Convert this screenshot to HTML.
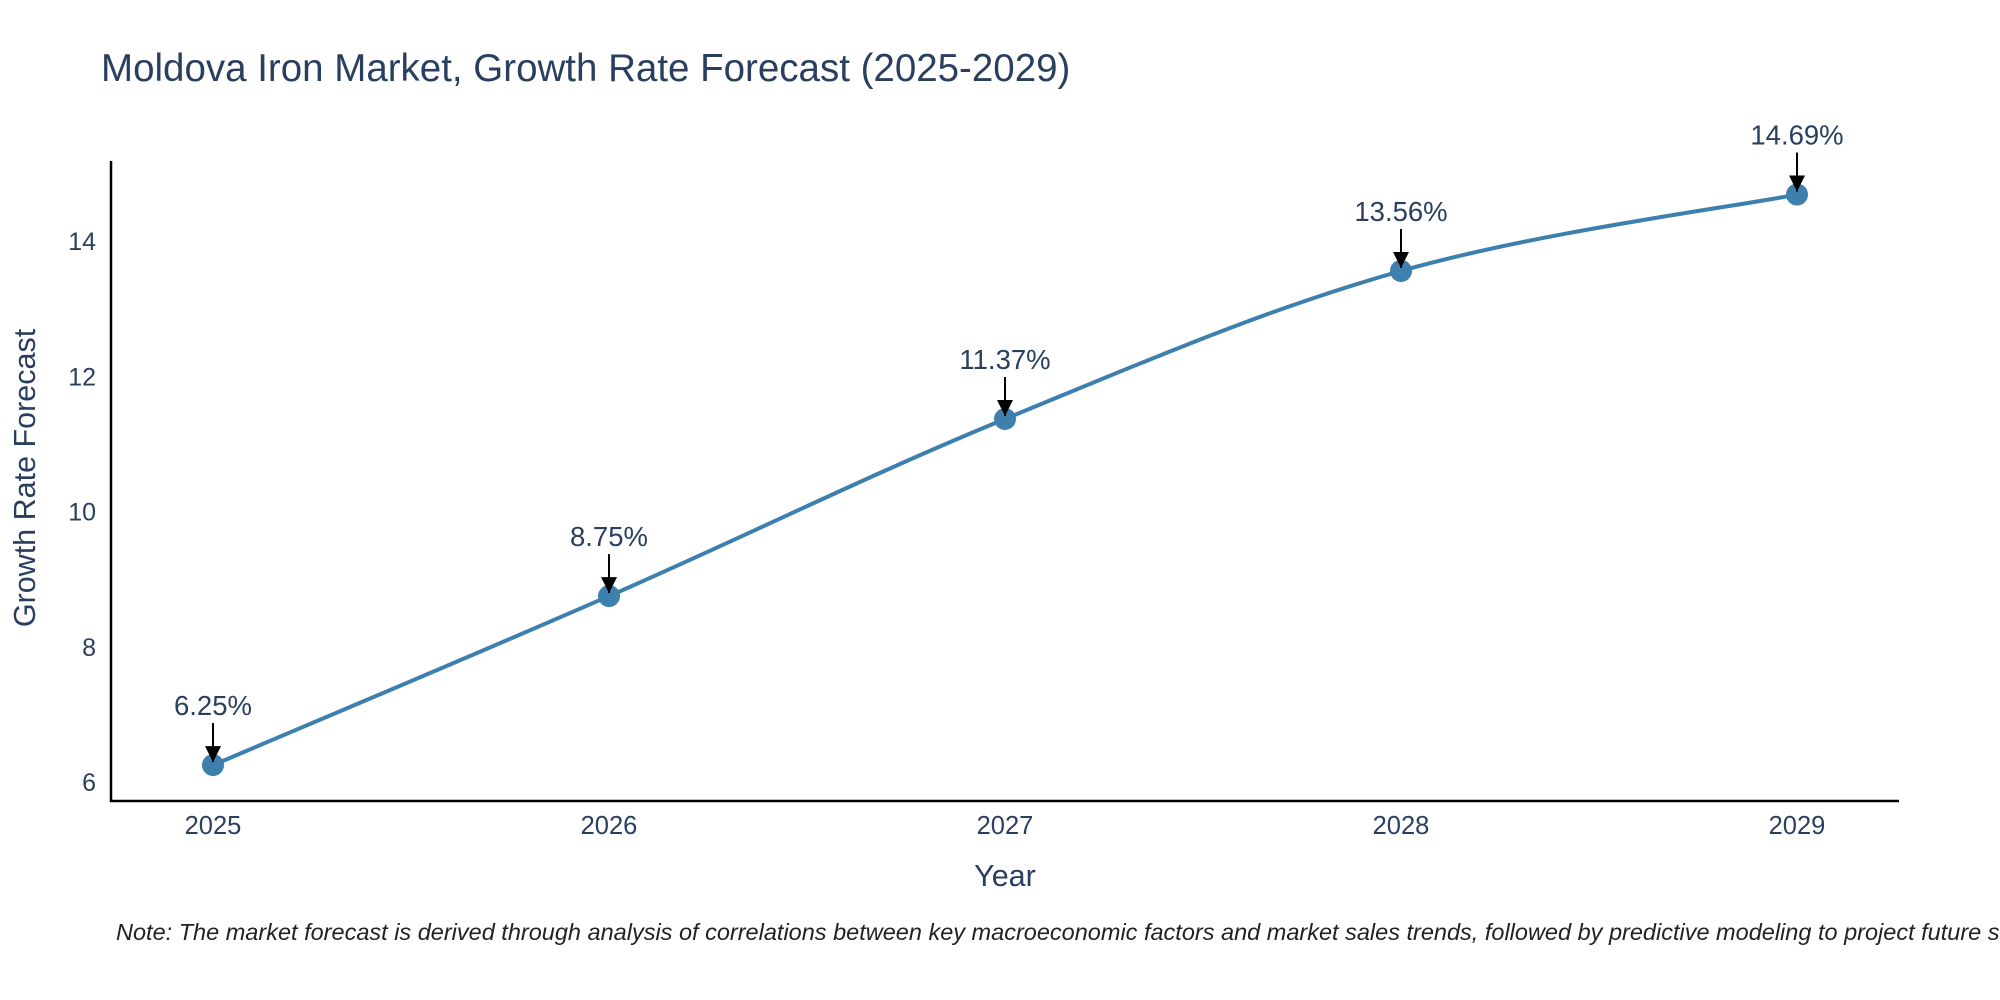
<!DOCTYPE html>
<html><head><meta charset="utf-8"><style>
html,body{margin:0;padding:0;background:#fff;overflow:hidden;}
svg{display:block;font-family:"Liberation Sans",sans-serif;}
</style></head><body>
<svg id="chart" width="2000" height="1000">
  <text x="101" y="81" font-size="38.5" fill="#2a3f5f">Moldova Iron Market, Growth Rate Forecast (2025-2029)</text>
  <g id="ticks"></g>
  <g id="plot"></g>
  <line x1="111" y1="161" x2="111" y2="802" stroke="#000" stroke-width="2.5"/>
  <line x1="110" y1="801" x2="1899" y2="801" stroke="#000" stroke-width="2.5"/>
  <text x="1005" y="886" font-size="30.5" fill="#2a3f5f" text-anchor="middle">Year</text>
  <text transform="translate(35,478) rotate(-90)" font-size="30.5" fill="#2a3f5f" text-anchor="middle">Growth Rate Forecast</text>
  <text x="116" y="940" font-size="23.5" font-style="italic" fill="#222">Note: The market forecast is derived through analysis of correlations between key macroeconomic factors and market sales trends, followed by predictive modeling to project future sales.</text>
</svg>
<script>
const years = [2025, 2026, 2027, 2028, 2029];
const values = [6.25, 8.75, 11.37, 13.56, 14.69];
const yTicks = [6, 8, 10, 12, 14];
const NS = "http://www.w3.org/2000/svg";
function xs(i){ return 213 + (i) * 396; }
function ys(v){ return 782 - (v - 6) * 67.6; }
function mk(tag, attrs, parent){ const e=document.createElementNS(NS,tag); for(const k in attrs) e.setAttribute(k,attrs[k]); parent.appendChild(e); return e; }
const ticks=document.getElementById('ticks'), plot=document.getElementById('plot');
yTicks.forEach(t=>{
  const e=mk('text',{x:96,y:ys(t)+9,'font-size':25,fill:'#2a3f5f','text-anchor':'end'},ticks);
  
  
  e.textContent=t;
});
years.forEach((yr,i)=>{
  const e=mk('text',{x:xs(i),y:834,'font-size':25.5,fill:'#2a3f5f','text-anchor':'middle'},ticks);
  
  
  e.textContent=yr;
});
const pts=values.map((v,i)=>[xs(i),ys(v)]);
let d='M'+pts[0][0]+','+pts[0][1];
const s=0.35;
for(let i=0;i<pts.length-1;i++){
  const p0=pts[Math.max(i-1,0)],p1=pts[i],p2=pts[i+1],p3=pts[Math.min(i+2,pts.length-1)];
  const c1=[p1[0]+(p2[0]-p0[0])*s/2,p1[1]+(p2[1]-p0[1])*s/2];
  const c2=[p2[0]-(p3[0]-p1[0])*s/2,p2[1]-(p3[1]-p1[1])*s/2];
  d+=` C${c1[0]},${c1[1]} ${c2[0]},${c2[1]} ${p2[0]},${p2[1]}`;
}
const line=mk('path',{d:d,fill:'none',stroke:'#3d7fad','stroke-width':4},plot);


mk('defs',{},plot).innerHTML='<marker id="ah" viewBox="0 0 10 10" refX="10" refY="5" markerWidth="8" markerHeight="8" markerUnits="strokeWidth" orient="auto"><path d="M0,0L10,5L0,10z" fill="#000"/></marker>';
pts.forEach((p,i)=>{
  const c=mk('circle',{cx:p[0],cy:p[1],r:11,fill:'#3d7fad'},plot);
  
  
  const a=mk('line',{x1:p[0],y1:p[1]-42,x2:p[0],y2:p[1]-3,stroke:'#000','stroke-width':2,'marker-end':'url(#ah)'},plot);
  
  
  const t=mk('text',{x:p[0],y:p[1]-50,'font-size':27.5,fill:'#2a3f5f','text-anchor':'middle'},plot);
  
  
  t.textContent=values[i].toFixed(2)+'%';
});
</script>
</body></html>
